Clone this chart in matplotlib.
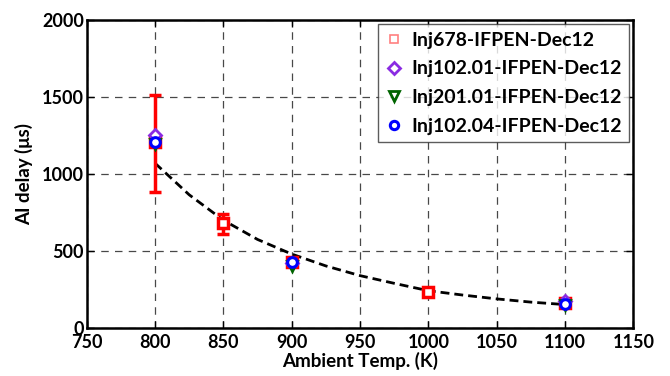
import matplotlib
matplotlib.use("Agg")
import matplotlib.pyplot as plt
from matplotlib.lines import Line2D

# data
temp_678 = [800, 850, 900, 1000, 1100]
delay_678 = [1210, 680, 430, 232, 160]
err_lo_678 = [330, 70, 0, 0, 0]
err_hi_678 = [305, 60, 0, 0, 0]

temp_102_01 = [800, 900, 1100]
delay_102_01 = [1255, 420, 178]

temp_201_01 = [800, 900, 1100]
delay_201_01 = [1195, 405, 150]

temp_102_04 = [800, 900, 1100]
delay_102_04 = [1205, 430, 155]

fit_temp = [800, 825, 850, 875, 900, 925, 950, 975, 1000, 1025, 1050, 1075, 1100]
fit_delay = [1070, 865, 700, 575, 480, 403, 340, 290, 242, 214, 189, 168, 152]

xticks = [750, 800, 850, 900, 950, 1000, 1050, 1100, 1150]
yticks = [0, 500, 1000, 1500, 2000]

plt.rcParams["font.family"] = ["Lato", "DejaVu Sans"]
plt.rcParams["font.weight"] = "bold"

fig = plt.figure(figsize=(6.7, 3.76), dpi=100, facecolor="white")
ax = fig.add_axes([0.1294, 0.1277, 0.8159, 0.8191])

ax.plot(fit_temp, fit_delay, color="black", lw=2.0, ls=(0, (3.2, 1.8)), zorder=2)

ax.errorbar(temp_678, delay_678, yerr=[err_lo_678, err_hi_678], fmt="s",
            color="red", mfc="white", mec="red", ms=7, mew=2.5,
            elinewidth=2.5, capsize=4, capthick=2.5, zorder=3)
ax.plot(temp_102_01, delay_102_01, "D", ms=6, mfc="white", mec="#8a2be2", mew=2, ls="none", zorder=4)
ax.plot(temp_201_01, delay_201_01, "v", ms=7, mfc="white", mec="#006400", mew=2, ls="none", zorder=4)
ax.plot(temp_102_04, delay_102_04, "o", ms=7, mfc="white", mec="blue", mew=2.2, ls="none", zorder=5)

handles = [
    Line2D([], [], marker="s", ls="none", ms=6, mfc="white", mec="#ff8080", mew=1.2),
    Line2D([], [], marker="D", ls="none", ms=6, mfc="white", mec="#8a2be2", mew=2),
    Line2D([], [], marker="v", ls="none", ms=7, mfc="white", mec="#006400", mew=2),
    Line2D([], [], marker="o", ls="none", ms=6, mfc="white", mec="blue", mew=2.2),
]
labels = ["Inj678-IFPEN-Dec12", "Inj102.01-IFPEN-Dec12",
          "Inj201.01-IFPEN-Dec12", "Inj102.04-IFPEN-Dec12"]
leg = ax.legend(handles, labels, loc="upper right", fontsize=14, frameon=True,
                fancybox=False, edgecolor="#333333", handlelength=0.8,
                handletextpad=0.5, borderaxespad=0.2, labelspacing=0.6,
                borderpad=0.4)
leg.get_frame().set_linewidth(1.0)
leg.set_zorder(10)

ax.set_xlim(750, 1150)
ax.set_ylim(0, 2000)
ax.set_xticks(xticks)
ax.set_yticks(yticks)
ax.grid(True, color="#484848", ls=(0, (6, 5)), lw=0.9)
ax.set_axisbelow(True)
ax.tick_params(direction="in", top=True, right=True, labelsize=13, length=5, width=1.0)
ax.tick_params(axis="x", pad=4)
ax.tick_params(axis="y", pad=2)
for sp in ax.spines.values():
    sp.set_linewidth(1.8)
ax.set_xlabel("Ambient Temp. (K)", fontsize=13.5, fontweight="bold", labelpad=1)
ax.set_ylabel("AI delay (\u03bcs)", fontsize=13.5, fontweight="bold", labelpad=6)

fig.savefig("out.png", dpi=100, facecolor="white")
